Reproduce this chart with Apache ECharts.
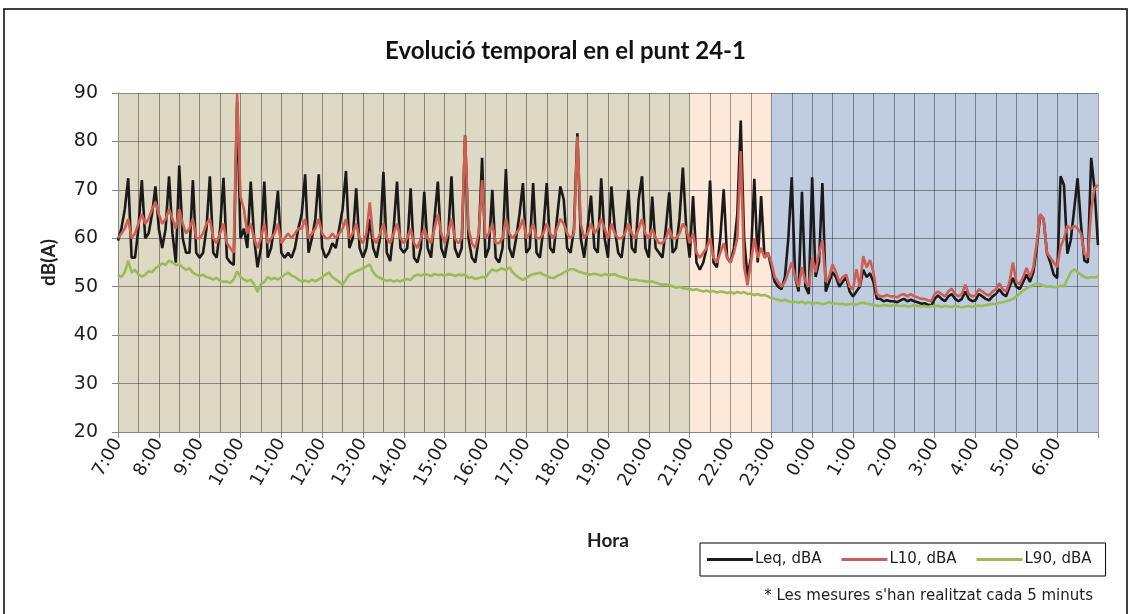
<!DOCTYPE html>
<html>
<head>
<meta charset="utf-8">
<script src="https://cdn.jsdelivr.net/npm/echarts@6/dist/echarts.min.js"></script>
<style>
html,body{margin:0;padding:0;background:#fff;}
#chart{width:1131px;height:614px;}
</style>
</head>
<body>
<div id="chart"></div>
<script>
// Leq, dBA — one value every 5 minutes from 7:00 to 7:00 (rows = hours)
var leq = [
59.5,62,66,72.4,56,56,62,72,60,61,65,70.7,
62,58,62,72.8,61,55,75,60,57,57,72,57,
56,57,62,72.8,57,56,62,72.5,56,55,54.5,88,
60,62,58,71.7,60,54,58,71.7,56,58,63,69.8,
57,56,57,56,58,62,65,73.2,57,60,64,73.2,
58,56,57,59,58,62,66,73.9,58,60,70.3,58,
56,58,64,58,56,60,73.7,57,55.3,62,71.7,58,
57,58,70.3,56,55,58,69.6,58,56,64,71.7,58,
56,60,72.8,58,56,58,81.2,60,56,55,60,76.6,
56,58,70,56,55,58,74.3,58,56,60,65,71.4,
57,58,71.4,57,56,62,71.4,58,57,64,70.7,68,
58,57,62,81.7,60,56,62,68.8,58,57,72.4,60,
56,70.7,62,57,56,62,70,58,57,68,72.8,58,
56,68.6,58,57,56,62,69.5,57,58,64,74.6,62,
56,68.7,55,53.5,55,58,71.9,55,54,60,70.1,56,
55,58,65,84.3,60,52,56,72.3,55,68.7,56,57,
54,51,50,49.5,52,60,72.6,52,49,69.6,50,48.5,
72.6,52,55,71.4,49,51,53,52,50,51,52,49,
48,49,50,53.5,52,52.8,51,47.5,47.5,47,47.2,47,
47,46.8,47.2,47.5,47,47.3,47,46.8,46.5,46.6,46.3,46.1,
47.5,48.2,47.5,47,48,48.5,47.5,47,47.5,49,47.5,47,
47.2,48.5,48,47.5,47.2,48,48.5,49.5,48.5,48,50,51.8,
50,49.5,51,52.5,51,53,58,64.8,64,57,55,52.5,
51.8,72.8,71,56.8,59.6,66,72.4,62.8,55.4,55,76.6,70,
58.6
];
// L10, dBA
var l10 = [
60,61,62,64,60,61,63,65,63,64,66,67.5,
65,63,64,66,64,62,66,63,61,62,64,60,
60,61,63,64,60,59,61,63,59,58,57,90,
68.6,66,61,63,60,58,60,63,59,60,61,63,
59,60,61,60,61,62,62,64,60,61,62,64,
61,60,60,61,60,61,62,64,60,61,63,60,
59,61,67.4,60,59,61,63,60,59,61,63,60,
59,60,62,59,58,60,62,60,59,62,65,61,
59,61,64,60,59,60,81.2,62,59,58,61,72,
60,61,63,59,59,60,64,61,60,61,62,64,
60,61,63,60,60,61,63,61,60,62,64,63,
61,60,61,81,63,60,61,63,61,62,64,62,
60,63,61,60,60,61,63,61,60,62,64,61,
60,62,60,59,59,60,62,60,60,61,63,62,
59,61,57,56,57,58,60,56,55,57,59,56,
55,57,60,78,54,50.3,55,60,56,58,56,57,
55,52,51,50,51,53,55,52,50,54,51,50,
56,53,57,59.6,51,52,54.6,53,51,52,52.5,50,
49.5,53.6,50,56.3,54,55.5,53,48.5,48,48,48.3,48,
48,47.8,48.3,48.5,48,48.5,48,47.8,47.5,47.5,47.2,47,
48.5,49,48.5,48,49,49.6,48.5,48,48.5,50.4,48.5,48,
48.2,49.5,49,48.5,48.2,49,49.5,50.7,49.5,49,51,55,
51,50.5,52,53.9,52,54,59,65,64,57,56,55,
54,58.2,60,62.6,61.9,62.6,62,61,56.8,56,66,70.4,
71
];
// L90, dBA
var l90 = [
52.5,52,53,55.4,52.9,53.5,52.5,52.1,52.5,53.2,53,53.8,
54.3,54.8,54.5,55.4,55,54.5,54.6,54,53.5,53.8,52.9,52.5,
52.2,52.5,52,51.8,51.5,51.8,51.2,51,51.1,50.8,51.5,53.2,
52,51.5,51.1,51.5,50.5,48.9,50.5,51,52,51.5,51.8,51.5,
52,52.5,52.9,52.3,52,51.5,51.1,51.3,51,51.5,51.1,51.5,
52,52.5,52.9,52,51.5,51,50.4,51.5,52.5,52.8,53.2,53.5,
53.8,54.2,54.6,53,52.2,51.8,51.5,51.2,51.4,51.1,51.3,51.1,
51.4,51.6,51.4,52.2,52.5,52.3,52.6,52.5,52.2,52.6,52.4,52.5,
52.3,52.6,52.5,52.2,52.5,52.4,52.5,51.8,52,51.6,51.8,52,
51.9,52.8,53.6,53.2,53.5,53.8,53.4,54,53,52.3,51.8,51.4,
51.8,52.3,52.6,52.7,52.9,52.5,52.2,51.9,51.8,52.2,52.5,52.9,
53.3,53.6,53.6,53.2,53,52.8,52.6,52.5,52.7,52.5,52.3,52.6,
52.4,52.5,52.6,52.2,52,51.8,51.6,51.4,51.5,51.3,51.2,51.1,
51,51.1,50.8,50.6,50.4,50.5,50.3,50.1,49.8,50,49.7,49.6,
49.5,49.3,49.5,49.2,49,49.2,48.9,49.1,48.8,49,48.9,48.7,
48.9,48.6,48.9,48.7,48.9,48.5,48.6,48.3,48.5,48.2,48.3,48,
47.6,47.5,47.3,47.1,47.3,47,46.8,46.9,46.7,46.9,46.6,46.8,
46.5,46.7,46.6,46.4,46.6,46.8,46.5,46.6,46.4,46.5,46.3,46.4,
46.5,46.3,46.6,46.7,46.5,46.4,46.2,46.1,46,46.2,46.1,46,
46.2,46.1,46,46.1,45.9,46,46.2,46,45.9,46,45.8,46,
45.9,46.1,45.8,46,45.9,45.8,46,45.9,45.7,45.9,46,45.8,
46,46.1,46,46.2,46.3,46.5,46.4,46.7,46.8,47,47.2,47.5,
48,48.6,49.2,49.6,50,50.4,50.6,50.5,50.2,50,50.1,49.9,
50,50.2,50.1,51.5,53,53.6,53,52.5,52,51.8,52,51.9,
52.1
];
// time categories (5-minute steps starting 7:00)
var startMinutes = 7 * 60;
var stepMinutes = 5;
var times = [];
for (var i = 0; i < leq.length; i++) {
  var t = startMinutes + i * stepMinutes;
  var h = Math.floor(t / 60) % 24, m = t % 60;
  times.push(h + ':' + (m < 10 ? '0' + m : m));
}
// background periods (category indices)
var periods = [
  {from: 0, to: 168, color: '#ddd9c5'},
  {from: 168, to: 192, color: '#fde9da'},
  {from: 192, to: 288, color: '#c0cce0'}
];

var chart = echarts.init(document.getElementById('chart'));
var gridCol = 'rgba(0,0,0,0.38)';
var txt = '#1e1e1e';
var colLeq = '#1c1a18', colL10 = '#cd5f55', colL90 = '#9bbb59';
chart.setOption({
  animation: false,
  title: {
    text: 'Evolució temporal en el punt 24-1',
    left: 'center', top: 34,
    textStyle: {fontFamily: 'Lato', fontWeight: 'bold', fontSize: 24, color: '#111'}
  },
  legend: {
    left: 700, top: 543,
    orient: 'horizontal',
    data: [
      {name: 'Leq, dBA', icon: 'rect'},
      {name: 'L10, dBA', icon: 'rect'},
      {name: 'L90, dBA', icon: 'rect'}
    ],
    borderColor: '#000', borderWidth: 1,
    padding: [9, 14, 9, 7],
    itemWidth: 46, itemHeight: 3, itemGap: 20,
    textStyle: {fontFamily: 'DejaVu Sans', fontSize: 15, color: txt, padding: [0, 0, 0, -3]}
  },
  grid: {left: 118, right: 33, top: 93, bottom: 182, containLabel: false},
  xAxis: {
    type: 'category', data: times, boundaryGap: false, z: 3,
    name: 'Hora', nameLocation: 'middle', nameGap: 99,
    nameTextStyle: {fontFamily: 'Lato', fontWeight: 'bold', fontSize: 19, color: txt},
    axisLine: {lineStyle: {color: '#868686', width: 1}},
    axisTick: {show: true, length: 6, lineStyle: {color: '#868686'},
      interval: function (idx) { return idx % 12 === 0; }},
    axisLabel: {rotate: 60, fontFamily: 'DejaVu Sans', fontSize: 18, color: txt, margin: 8,
      hideOverlap: false,
      interval: function (idx) { return idx % 12 === 0 && idx < leq.length - 1; }},
    splitLine: {show: true, lineStyle: {color: gridCol, width: 1},
      interval: function (idx) { return idx % 6 === 0; }}
  },
  yAxis: {
    type: 'value', min: 20, max: 90, interval: 10, z: 3,
    name: 'dB(A)', nameLocation: 'middle', nameGap: 60, nameRotate: 90,
    nameTextStyle: {fontFamily: 'Lato', fontWeight: 'bold', fontSize: 19, color: txt},
    axisLine: {show: true, lineStyle: {color: '#868686'}},
    axisTick: {show: true, length: 6, lineStyle: {color: '#868686'}},
    axisLabel: {fontFamily: 'DejaVu Sans', fontSize: 19, color: txt, margin: 20},
    splitLine: {show: true, lineStyle: {color: gridCol, width: 1}}
  },
  series: [
    {
      name: 'bg', type: 'line', data: [], z: 1, silent: true,
      markArea: {
        silent: true,
        data: periods.map(function (p) {
          return [{xAxis: p.from, itemStyle: {color: p.color}}, {xAxis: p.to}];
        })
      }
    },
    {name: 'Leq, dBA', type: 'line', data: leq, symbol: 'none', z: 5,
      lineStyle: {color: colLeq, width: 2.6}, itemStyle: {color: colLeq}},
    {name: 'L10, dBA', type: 'line', data: l10, symbol: 'none', z: 6,
      lineStyle: {color: colL10, width: 2.6}, itemStyle: {color: colL10}},
    {name: 'L90, dBA', type: 'line', data: l90, symbol: 'none', z: 7,
      lineStyle: {color: colL90, width: 2.6}, itemStyle: {color: colL90}}
  ],
  graphic: [
    {type: 'rect', shape: {x: 4, y: 9, width: 1123, height: 620},
      style: {fill: 'none', stroke: '#000', lineWidth: 1.5}, silent: true},
    {type: 'text', right: 1131 - 1093, top: 589,
      style: {text: "* Les mesures s'han realitzat cada 5 minuts", fontFamily: 'DejaVu Sans', fontSize: 15, fill: txt}}
  ]
});
</script>
</body>
</html>
